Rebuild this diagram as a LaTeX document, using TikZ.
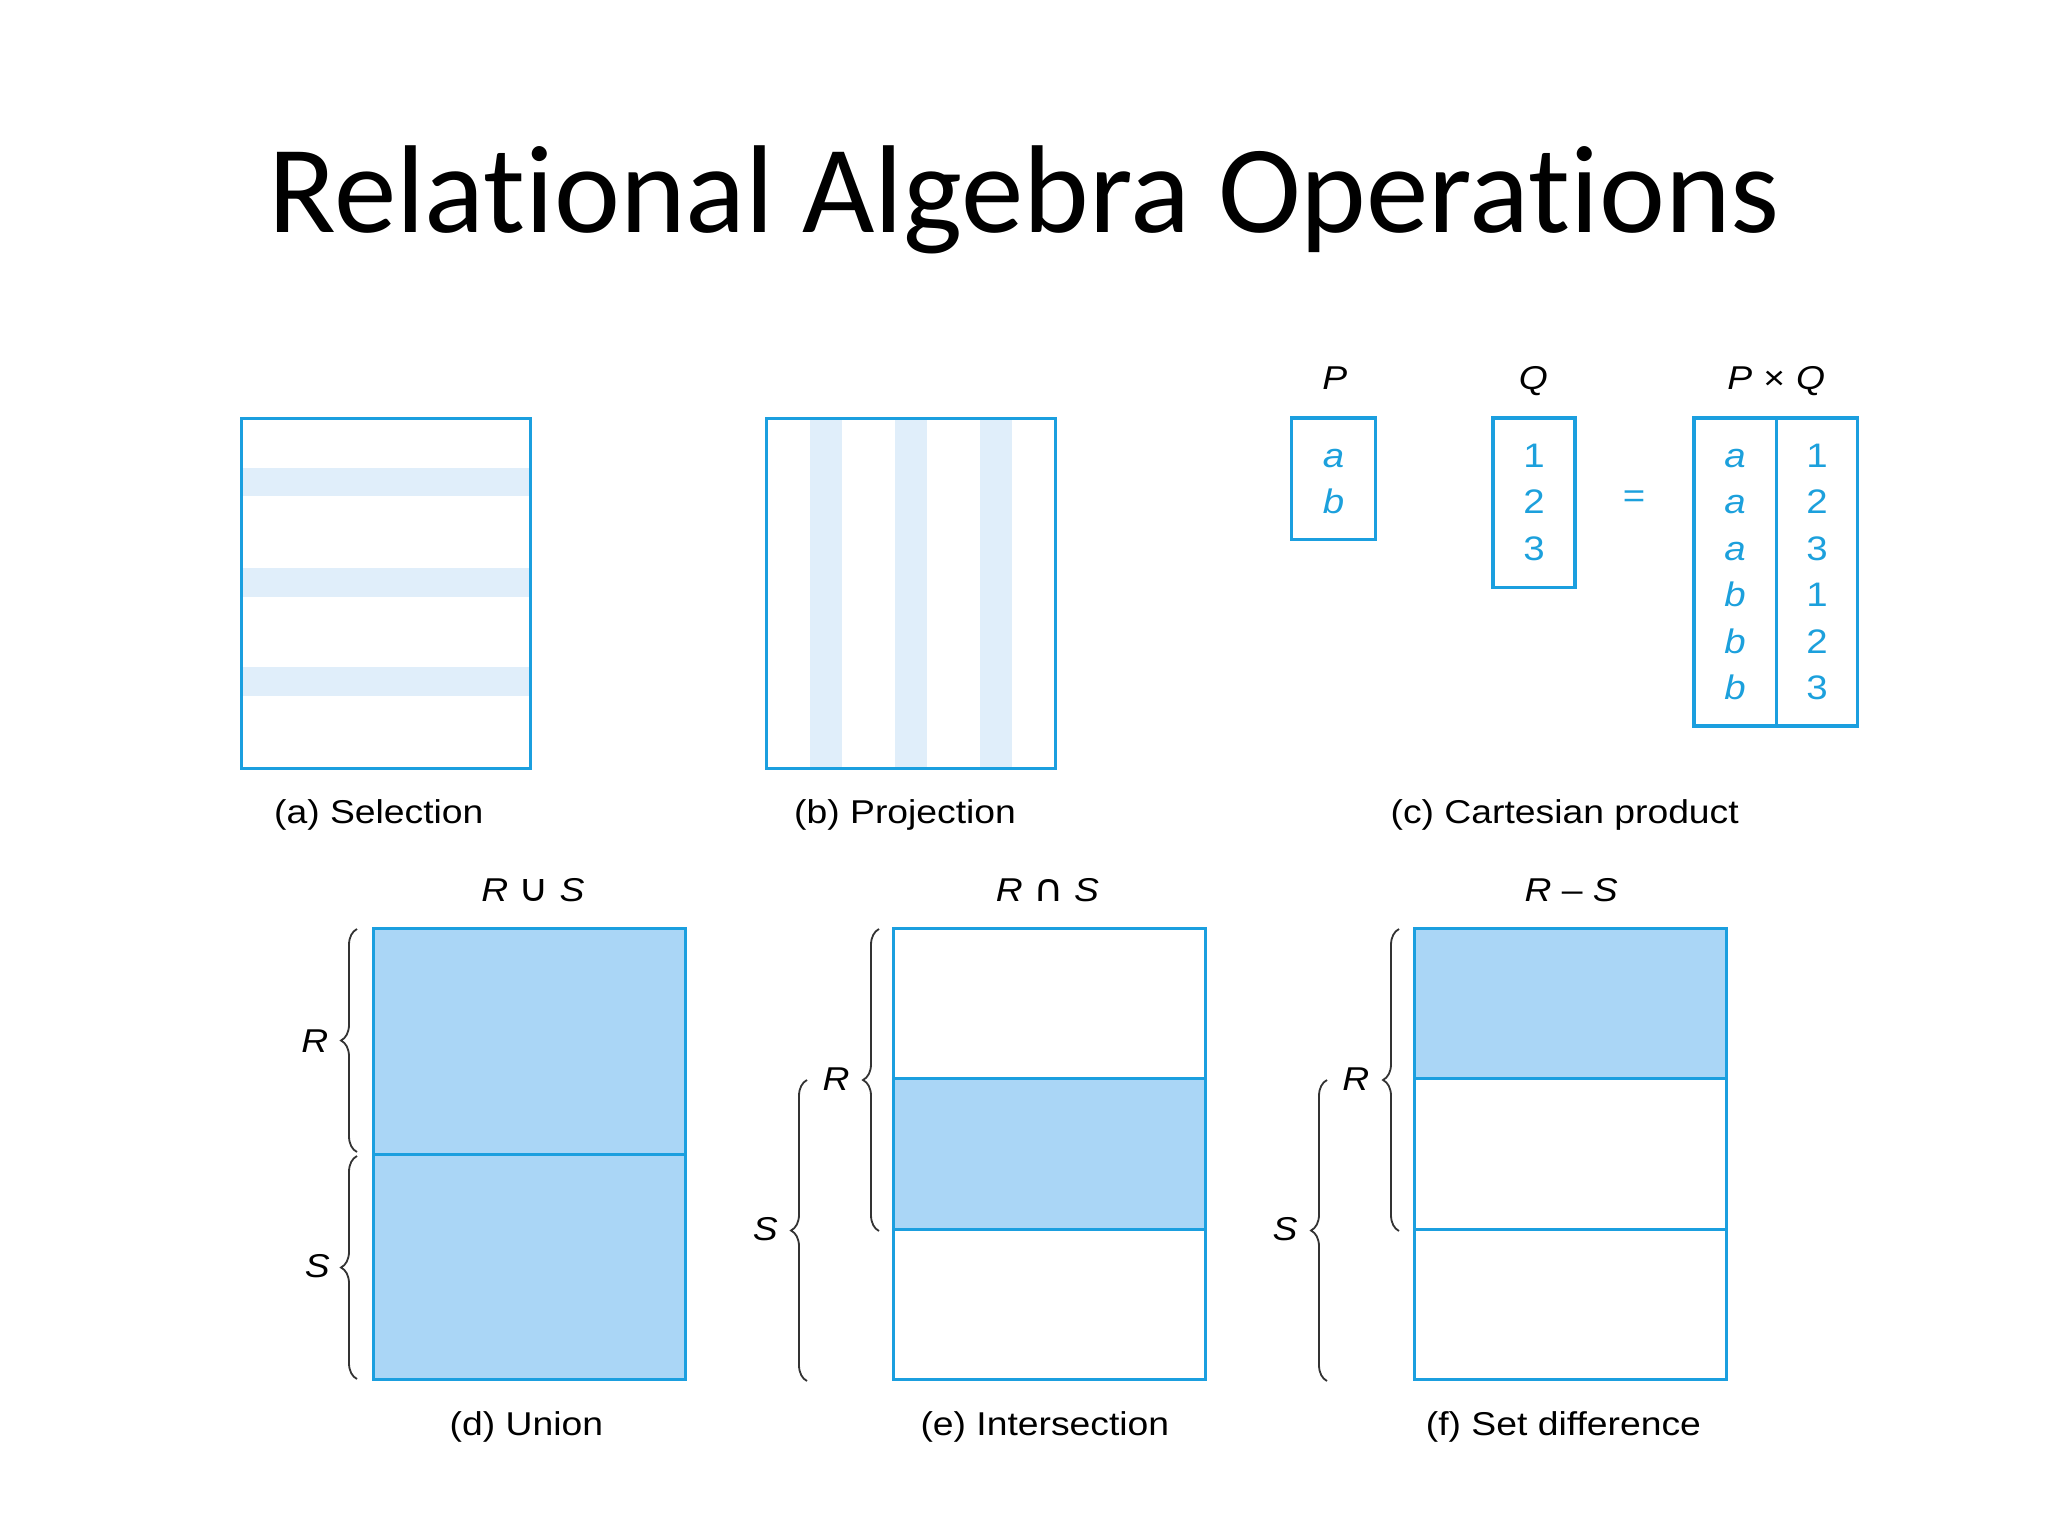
\documentclass[tikz,border=0pt]{standalone}
\usepackage{fontspec}
\setmainfont{Liberation Sans}
\newfontfamily\titlefont[Ligatures={NoCommon}]{Carlito}
\newfontfamily\labfont[FakeStretch=1.13]{Liberation Sans}
\newfontfamily\symfont[FakeStretch=1.1]{DejaVu Sans}
\usetikzlibrary{decorations.pathreplacing}
\definecolor{rablue}{HTML}{1B9FDF}
\definecolor{rafill}{HTML}{AAD6F6}
\definecolor{rastripe}{HTML}{E0EEFA}
\definecolor{ratext}{HTML}{1CA0DC}
\definecolor{rabrace}{HTML}{333333}
\tikzset{
  relbox/.style={draw=rablue, line width=3pt},
  cartbox/.style={draw=rablue, line width=3.5pt},
  captext/.style={font=\labfont\fontsize{33}{40}\selectfont, anchor=base, inner sep=0pt, text=black},
  celltext/.style={font=\labfont\fontsize{34}{40}\selectfont, anchor=base, inner sep=0pt, text=ratext},
  bracestyle/.style={draw=rabrace, line width=1.8pt, decorate, decoration={brace, amplitude=16pt}},
}
\begin{document}
\begin{tikzpicture}[x=1pt,y=-1pt]
\useasboundingbox (0,0) rectangle (2048,1536);
% title
\node[font=\titlefont\fontsize{125}{150}\selectfont, anchor=base, inner sep=0pt] (title) at (1024,232.5) {Relational Algebra Operations};

% (a) selection
\fill[rastripe] (241.6,467.6) rectangle (530.3,496.3);
\fill[rastripe] (241.6,568.2) rectangle (530.3,596.9);
\fill[rastripe] (241.6,667.4) rectangle (530.3,696.1);
\draw[relbox] (241.6,418) rectangle (530.3,768);
\node[captext] (capa) at (378.8,823) {(a) Selection};

% (b) projection
\fill[rastripe] (809.8,418) rectangle (842.4,768);
\fill[rastripe] (894.7,418) rectangle (927.3,768);
\fill[rastripe] (979.6,418) rectangle (1012.2,768);
\draw[relbox] (766.7,418) rectangle (1055.3,768);
\node[captext] (capb) at (905.1,823) {(b) Projection};

% (c) cartesian product
\node[captext] (lP) at (1334.8,389.3) {\textit{P}};
\node[captext] (lQ) at (1533.4,389.3) {\textit{Q}};
\node[captext] (lPQ) at (1776.3,389.3) {\textit{P}\,\,×\,\,\textit{Q}};
\draw[cartbox] (1291.7,418) rectangle (1375.3,539.4);
\draw[cartbox] (1492.9,418) rectangle (1575.2,587.7);
\draw[cartbox] (1694,418) rectangle (1857.3,726.2);
\draw[cartbox] (1776.3,418) -- (1776.3,726.2);
\node[celltext] (pa) at (1333.5,467) {\textit{a}};
\node[celltext] (pb) at (1333.5,513.5) {\textit{b}};
\node[celltext] (q1) at (1534,467) {1};
\node[celltext] (q2) at (1534,513.5) {2};
\node[celltext] (q3) at (1534,560) {3};
\node[celltext, anchor=center] (eq) at (1634,499) {=};
\node[celltext] (r1a) at (1735,467) {\textit{a}};
\node[celltext] (r2a) at (1735,513.5) {\textit{a}};
\node[celltext] (r3a) at (1735,560) {\textit{a}};
\node[celltext] (r4a) at (1735,606.5) {\textit{b}};
\node[celltext] (r5a) at (1735,653) {\textit{b}};
\node[celltext] (r6a) at (1735,699.5) {\textit{b}};
\node[celltext] (r1b) at (1817,467) {1};
\node[celltext] (r2b) at (1817,513.5) {2};
\node[celltext] (r3b) at (1817,560) {3};
\node[celltext] (r4b) at (1817,606.5) {1};
\node[celltext] (r5b) at (1817,653) {2};
\node[celltext] (r6b) at (1817,699.5) {3};
\node[captext] (capc) at (1564.7,823) {(c) Cartesian product};

% (d) union
\fill[rafill] (373.5,928.6) rectangle (685.7,1379.3);
\draw[relbox] (373.5,928.6) rectangle (685.7,1379.3);
\draw[relbox] (373.5,1154) -- (685.7,1154);
\draw[bracestyle] (357,1152) -- (357,929);
\draw[bracestyle] (357,1379) -- (357,1156);
\node[captext] (uR) at (314.8,1052.8) {\textit{R}};
\node[captext] (uS) at (317.4,1277.4) {\textit{S}};
\node[captext] (uT) at (532.9,901.3) {\textit{R} {\symfont\fontsize{38}{40}\selectfont ∪} \textit{S}};
\node[captext] (capd) at (526.4,1435.5) {(d) Union};

% (e) intersection
\fill[rafill] (893.4,1078.8) rectangle (1205.5,1229);
\draw[relbox] (893.4,928.6) rectangle (1205.5,1379.3);
\draw[relbox] (893.4,1078.8) -- (1205.5,1078.8);
\draw[relbox] (893.4,1229) -- (1205.5,1229);
\draw[bracestyle] (879,1231) -- (879,929);
\draw[bracestyle] (807,1381) -- (807,1080);
\node[captext] (iR) at (836,1090.8) {\textit{R}};
\node[captext] (iS) at (765.4,1240.8) {\textit{S}};
\node[captext] (iT) at (1047.5,901.3) {\textit{R} {\symfont\fontsize{38}{40}\selectfont ∩} \textit{S}};
\node[captext] (cape) at (1044.9,1435.5) {(e) Intersection};

% (f) set difference
\fill[rafill] (1414.5,928.6) rectangle (1726.7,1078.8);
\draw[relbox] (1414.5,928.6) rectangle (1726.7,1379.3);
\draw[relbox] (1414.5,1078.8) -- (1726.7,1078.8);
\draw[relbox] (1414.5,1229) -- (1726.7,1229);
\draw[bracestyle] (1399,1231) -- (1399,929);
\draw[bracestyle] (1327,1381) -- (1327,1080);
\node[captext] (dR) at (1355.7,1090.8) {\textit{R}};
\node[captext] (dS) at (1285,1240.8) {\textit{S}};
\node[captext] (dT) at (1571.2,901.3) {\textit{R} – \textit{S}};
\node[captext] (capf) at (1563.4,1435.5) {(f) Set difference};
\end{tikzpicture}
\end{document}
